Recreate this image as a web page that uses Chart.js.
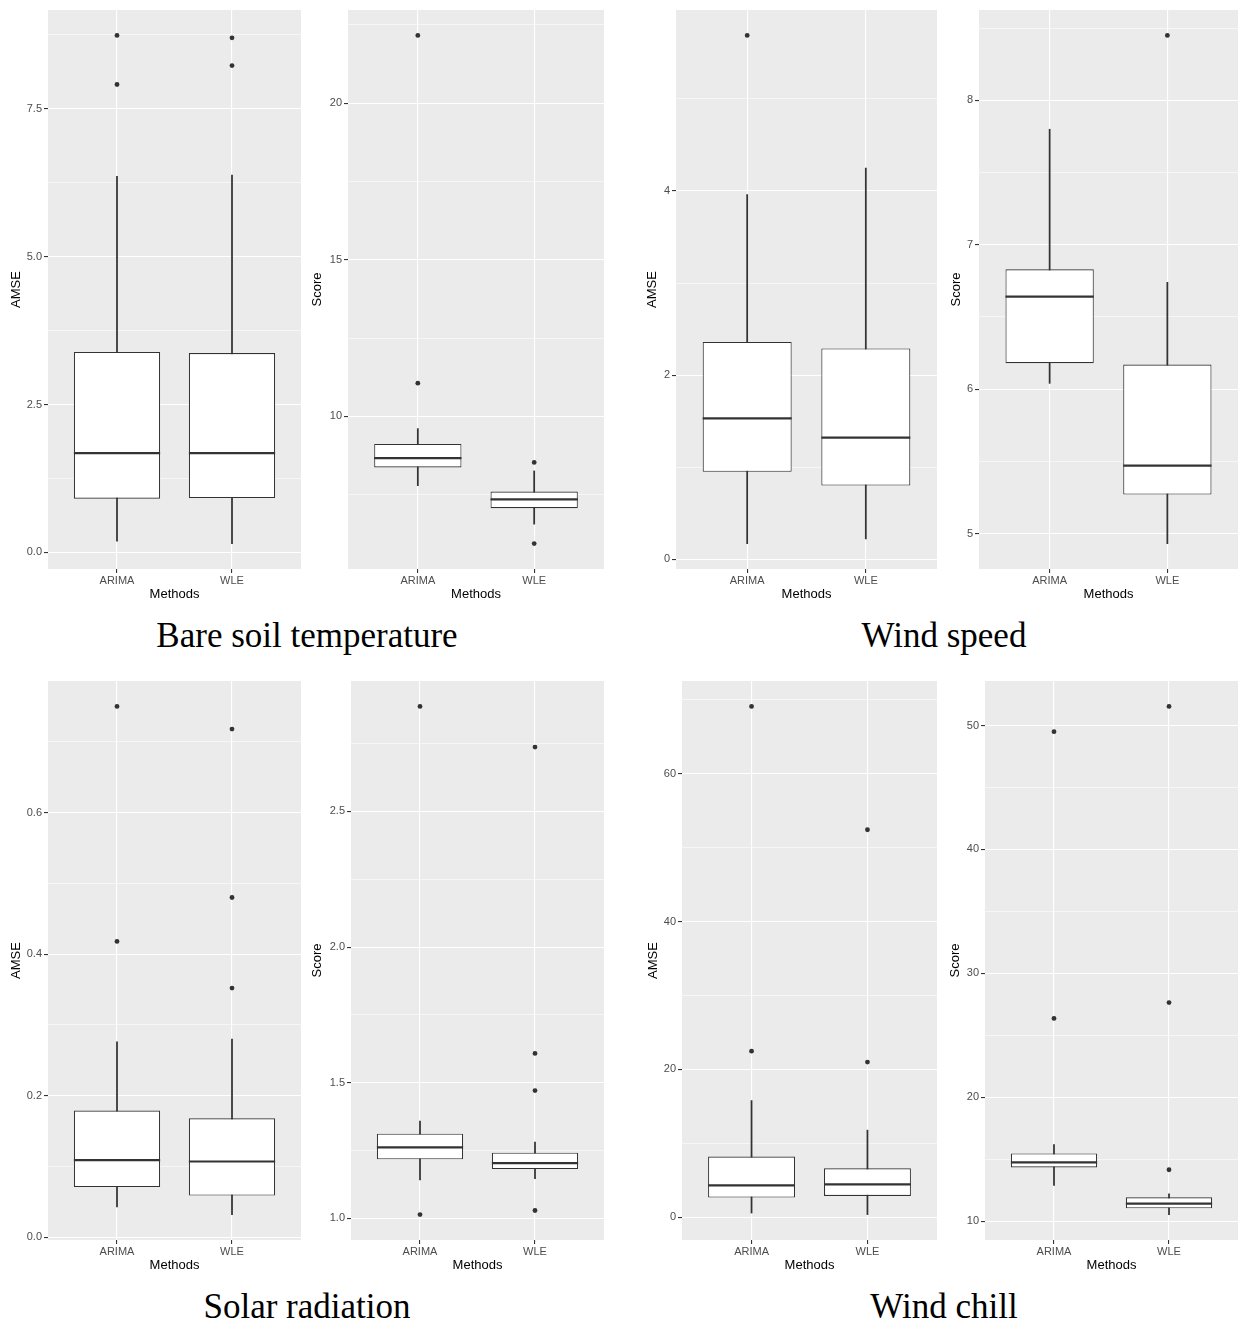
<!DOCTYPE html>
<html>
<head>
<meta charset="utf-8">
<script src="https://cdn.jsdelivr.net/npm/chart.js@4.4.1/dist/chart.umd.min.js"></script>
<style>
  html, body { margin: 0; padding: 0; background: #ffffff; }
  body { position: relative; width: 1239px; height: 1324px; overflow: hidden; }
  canvas { position: absolute; }
  .ttl { position: absolute; font-family: "Liberation Serif", "DejaVu Serif", serif; font-size: 35px;
         line-height: 40px; color: #000; text-align: center; white-space: nowrap; }
</style>
</head>
<body>
<div class="ttl" style="left:0px;width:614px;top:616px">Bare soil temperature</div>
<div class="ttl" style="left:650px;width:588px;top:616px">Wind speed</div>
<div class="ttl" style="left:0px;width:614px;top:1287px">Solar radiation</div>
<div class="ttl" style="left:650px;width:588px;top:1287px">Wind chill</div>
<script>
// ---- Data: each stats row = [lower whisker, Q1, median, Q3, upper whisker] ----
const methods = ['ARIMA', 'WLE'];

const soilAmseStats    = [[0.19, 0.91, 1.68, 3.39, 6.36], [0.15, 0.92, 1.68, 3.37, 6.38]];
const soilAmseOutliers = [[8.74, 7.91], [8.70, 8.23]];
const soilAmseTicks    = ['0.0', '2.5', '5.0', '7.5'];

const soilScoreStats    = [[7.79, 8.37, 8.67, 9.12, 9.61], [6.56, 7.07, 7.35, 7.60, 8.26]];
const soilScoreOutliers = [[22.16, 11.06], [8.53, 5.94]];
const soilScoreTicks    = ['10', '15', '20'];

const windAmseStats    = [[0.17, 0.95, 1.53, 2.36, 3.96], [0.22, 0.80, 1.32, 2.29, 4.25]];
const windAmseOutliers = [[5.69], []];
const windAmseTicks    = ['0', '2', '4'];

const windScoreStats    = [[6.04, 6.18, 6.64, 6.83, 7.80], [4.93, 5.27, 5.47, 6.17, 6.74]];
const windScoreOutliers = [[], [8.45]];
const windScoreTicks    = ['5', '6', '7', '8'];

const solarAmseStats    = [[0.043, 0.071, 0.109, 0.179, 0.276], [0.032, 0.059, 0.107, 0.168, 0.280]];
const solarAmseOutliers = [[0.750, 0.418], [0.718, 0.480, 0.352]];
const solarAmseTicks    = ['0.0', '0.2', '0.4', '0.6'];

const solarScoreStats    = [[1.142, 1.218, 1.262, 1.312, 1.359], [1.146, 1.182, 1.204, 1.242, 1.281]];
const solarScoreOutliers = [[2.887, 1.014], [2.737, 1.608, 1.471, 1.029]];
const solarScoreTicks    = ['1.0', '1.5', '2.0', '2.5'];

const chillAmseStats    = [[0.58, 2.68, 4.32, 8.21, 15.79], [0.37, 2.89, 4.47, 6.63, 11.79]];
const chillAmseOutliers = [[69.1, 22.47], [52.42, 21.0]];
const chillAmseTicks    = ['0', '20', '40', '60'];

const chillScoreStats    = [[12.89, 14.34, 14.74, 15.47, 16.17], [10.53, 11.04, 11.41, 11.92, 12.20]];
const chillScoreOutliers = [[49.50, 26.36], [51.54, 27.64, 14.15]];
const chillScoreTicks    = ['10', '20', '30', '40', '50'];

// ---- Layout of the eight panels ----
const panels = [
  { stats: soilAmseStats,   outliers: soilAmseOutliers,   ticks: soilAmseTicks,   yTitle: 'AMSE',  left: 5,   top: 0,   plotLeft: 48,  plotRight: 301 },
  { stats: soilScoreStats,  outliers: soilScoreOutliers,  ticks: soilScoreTicks,  yTitle: 'Score', left: 306, top: 0,   plotLeft: 348, plotRight: 604 },
  { stats: windAmseStats,   outliers: windAmseOutliers,   ticks: windAmseTicks,   yTitle: 'AMSE',  left: 641, top: 0,   plotLeft: 676, plotRight: 937 },
  { stats: windScoreStats,  outliers: windScoreOutliers,  ticks: windScoreTicks,  yTitle: 'Score', left: 945, top: 0,   plotLeft: 979, plotRight: 1238 },
  { stats: solarAmseStats,  outliers: solarAmseOutliers,  ticks: solarAmseTicks,  yTitle: 'AMSE',  left: 5,   top: 671, plotLeft: 48,  plotRight: 301 },
  { stats: solarScoreStats, outliers: solarScoreOutliers, ticks: solarScoreTicks, yTitle: 'Score', left: 306, top: 671, plotLeft: 351, plotRight: 604 },
  { stats: chillAmseStats,  outliers: chillAmseOutliers,  ticks: chillAmseTicks,  yTitle: 'AMSE',  left: 642, top: 671, plotLeft: 682, plotRight: 937 },
  { stats: chillScoreStats, outliers: chillScoreOutliers, ticks: chillScoreTicks, yTitle: 'Score', left: 944, top: 671, plotLeft: 985, plotRight: 1238 }
];

const INK = '#333333';
const CANVAS_H = 606;
const PLOT_TOP = 10;
const PLOT_BOTTOM = 569;

Chart.defaults.font.family = '"Liberation Sans", Arial, sans-serif';

const ggPlugin = {
  id: 'ggbox',
  beforeDraw(chart) {
    const a = chart.chartArea, c = chart.ctx;
    c.save();
    c.fillStyle = '#EBEBEB';
    c.fillRect(a.left, a.top, a.right - a.left, a.bottom - a.top);
    c.restore();
  },
  afterDatasetsDraw(chart, args, opts) {
    const meta = chart.getDatasetMeta(0);
    const ys = chart.scales.y;
    const c = chart.ctx;
    c.save();
    c.strokeStyle = INK;
    c.lineWidth = 2.2;
    meta.data.forEach((el, i) => {
      const y = ys.getPixelForValue(opts.medians[i]);
      c.beginPath();
      c.moveTo(el.x - el.width / 2, y);
      c.lineTo(el.x + el.width / 2, y);
      c.stroke();
    });
    c.restore();
  }
};

function buildConfig(p) {
  const all = p.stats.flat().concat(p.outliers.flat());
  const lo = Math.min(...all), hi = Math.max(...all);
  const pad = (hi - lo) * 0.05;
  const yMin = lo - pad, yMax = hi + pad;

  const majors = p.ticks.map(Number);
  const step = majors[1] - majors[0];
  const tickObjs = [];
  for (let k = -2; k <= majors.length * 2 + 2; k++) {
    const v = +(majors[0] + k * step / 2).toFixed(6);
    if (v < yMin || v > yMax) continue;
    const mj = (k % 2 === 0);
    const lab = mj && k / 2 < p.ticks.length ? p.ticks[k / 2] : '';
    tickObjs.push({ value: v, mj: mj, lab: lab });
  }

  return {
    type: 'bar',
    data: {
      datasets: [
        {
          type: 'bar', label: 'box',
          data: methods.map((m, i) => ({ x: i + 1, y: [p.stats[i][1], p.stats[i][3]] })),
          backgroundColor: '#FFFFFF', borderColor: INK, borderWidth: 1.1, borderSkipped: false,
          grouped: false, categoryPercentage: 1, barPercentage: 0.75, order: 1
        },
        {
          type: 'bar', label: 'whisker',
          data: methods.map((m, i) => ({ x: i + 1, y: [p.stats[i][0], p.stats[i][4]] })),
          backgroundColor: INK, borderWidth: 0,
          grouped: false, categoryPercentage: 1, barPercentage: 1, maxBarThickness: 1.1, order: 2
        },
        {
          type: 'scatter', label: 'outliers',
          data: p.outliers.flatMap((arr, i) => arr.map(v => ({ x: i + 1, y: v }))),
          pointRadius: 2.4, pointBackgroundColor: INK, pointBorderWidth: 0, showLine: false, order: 0
        }
      ]
    },
    options: {
      responsive: false, maintainAspectRatio: false, animation: false, events: [],
      layout: { padding: { top: PLOT_TOP, right: 1, left: 0, bottom: 0 } },
      plugins: { legend: { display: false }, tooltip: { enabled: false }, ggbox: { medians: p.stats.map(s => s[2]) } },
      scales: {
        x: {
          type: 'linear', min: 0.4, max: 2.6, offset: false, bounds: 'data',
          afterBuildTicks: s => { s.ticks = methods.map((m, i) => ({ value: i + 1 })); },
          afterFit: s => { s.height = CANVAS_H - PLOT_BOTTOM; s.paddingLeft = 0; s.paddingRight = 0; },
          ticks: { autoSkip: false, maxRotation: 0, color: '#4D4D4D', font: { size: 11 }, padding: 1,
                   callback: v => methods[Math.round(v) - 1] },
          grid: { color: '#FFFFFF', lineWidth: 1.1, tickColor: INK, tickLength: 4, tickWidth: 1.1, offset: false },
          border: { display: false },
          title: { display: true, text: 'Methods', color: '#000000', font: { size: 13 }, padding: { top: 0, bottom: 4 } }
        },
        y: {
          type: 'linear', min: yMin, max: yMax, beginAtZero: false, bounds: 'data',
          afterBuildTicks: s => { s.ticks = tickObjs.map(t => ({ value: t.value, mj: t.mj, lab: t.lab })); },
          afterFit: s => { s.width = p.plotLeft - p.left; s.paddingTop = 0; s.paddingBottom = 0; },
          ticks: { autoSkip: false, color: '#4D4D4D', font: { size: 11 }, padding: 2,
                   callback: (v, i, ts) => ts[i].lab },
          grid: {
            color: '#FFFFFF',
            lineWidth: c => (c.tick && c.tick.mj) ? 1.1 : 0.55,
            tickColor: c => (c.tick && c.tick.mj) ? INK : 'rgba(0,0,0,0)',
            tickLength: 4, tickWidth: 1.1
          },
          border: { display: false },
          title: { display: true, text: p.yTitle, color: '#000000', font: { size: 13 }, padding: { top: 4, bottom: 0 } }
        }
      }
    },
    plugins: [ggPlugin]
  };
}

function placeChart(p, W) {
  const cv = document.createElement('canvas');
  cv.width = W; cv.height = CANVAS_H;
  cv.style.left = p.left + 'px';
  cv.style.top = p.top + 'px';
  cv.style.width = W + 'px';
  cv.style.height = CANVAS_H + 'px';
  document.body.appendChild(cv);
  return { cv, chart: new Chart(cv, buildConfig(p)) };
}

function makePanel(p) {
  const W = p.plotRight - p.left + 1;
  let r = placeChart(p, W);
  // Chart.js reserves a few extra pixels on the right; widen the canvas so the plot ends where intended.
  const extra = Math.round((p.plotRight - p.left) - r.chart.chartArea.right);
  if (extra !== 0) {
    r.chart.destroy();
    r.cv.remove();
    placeChart(p, W + extra);
  }
}

panels.forEach(makePanel);
</script>
</body>
</html>
